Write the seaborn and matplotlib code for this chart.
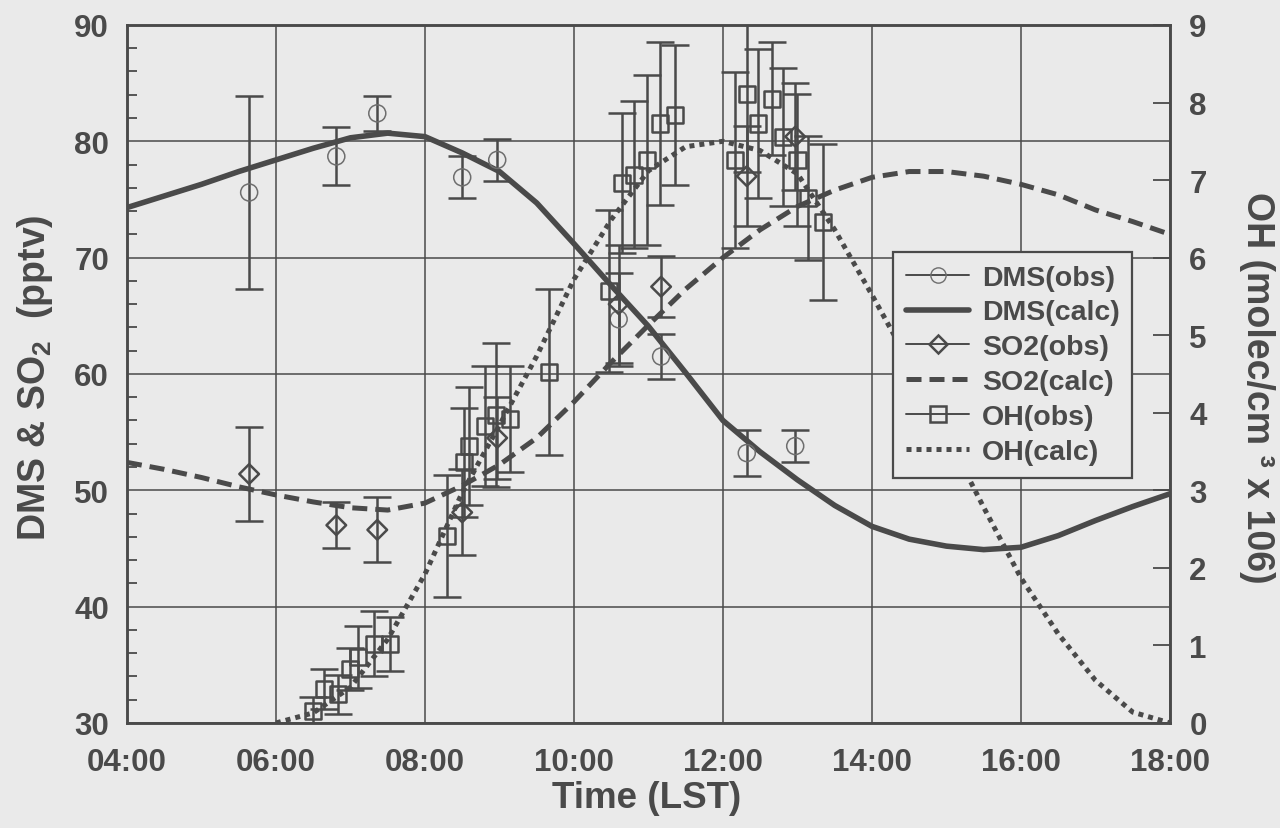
import matplotlib
matplotlib.use("Agg")
import matplotlib.pyplot as plt
import seaborn as sns
from matplotlib.lines import Line2D
from matplotlib.ticker import MultipleLocator

# ---------------- data ----------------
CALC_T = [4.0, 4.5, 5.0, 5.5, 6.0, 6.5, 7.0, 7.5, 8.0, 8.5, 9.0, 9.5, 10.0, 10.5,
          11.0, 11.5, 12.0, 12.5, 13.0, 13.5, 14.0, 14.5, 15.0, 15.5, 16.0, 16.5,
          17.0, 17.5, 18.0]
DMS_CALC = [74.3, 75.3, 76.3, 77.4, 78.4, 79.4, 80.3, 80.7, 80.4, 79.0, 77.4, 74.7,
            71.2, 67.6, 64.1, 60.1, 56.0, 53.3, 50.9, 48.7, 46.9, 45.8, 45.2, 44.9,
            45.1, 46.1, 47.4, 48.6, 49.7]
SO2_CALC = [52.4, 51.8, 51.1, 50.3, 49.6, 49.0, 48.5, 48.3, 48.9, 50.4, 52.2, 54.5,
            57.6, 61.0, 64.2, 67.3, 70.0, 72.4, 74.4, 75.8, 76.9, 77.4, 77.4, 77.0,
            76.3, 75.4, 74.1, 73.1, 72.0]

OH_CALC_T = [6.0, 6.5, 7.0, 7.5, 8.0, 8.5, 9.0, 9.5, 10.0, 10.5, 11.0, 11.5, 12.0,
             12.5, 13.0, 13.5, 14.0, 14.5, 15.0, 15.5, 16.0, 16.5, 17.0, 17.5, 18.0]
OH_CALC = [0.0, 0.13, 0.46, 1.08, 1.92, 2.97, 3.84, 4.73, 5.72, 6.49, 7.12, 7.43,
           7.50, 7.38, 7.08, 6.36, 5.52, 4.65, 3.72, 2.78, 1.87, 1.15, 0.55, 0.14, 0.0]

OBS_T = [5.64, 6.81, 7.36, 8.50, 8.97, 10.60, 11.17, 12.32, 12.97]
DMS_OBS = [75.6, 78.7, 82.4, 76.9, 78.4, 64.7, 61.5, 53.2, 53.8]
DMS_ERR = [8.3, 2.5, 1.5, 1.8, 1.8, 4.0, 1.9, 2.0, 1.4]
SO2_OBS = [51.4, 47.0, 46.6, 48.1, 54.5, 66.0, 67.5, 77.0, 80.4]
SO2_ERR = [4.0, 2.0, 2.8, 3.7, 3.5, 5.1, 2.6, 4.3, 4.6]

OH_OBS_T = [6.50, 6.64, 6.83, 6.99, 7.10, 7.32, 7.53, 8.30, 8.52, 8.59, 8.81, 8.95,
            9.14, 9.66, 10.47, 10.64, 10.81, 10.98, 11.15, 11.36, 12.16, 12.32,
            12.47, 12.66, 12.81, 13.00, 13.14, 13.34]
OH_OBS = [0.15, 0.44, 0.37, 0.70, 0.85, 1.02, 1.02, 2.41, 3.36, 3.57, 3.83, 3.97,
          3.92, 4.52, 5.57, 6.96, 7.07, 7.26, 7.73, 7.84, 7.26, 8.11, 7.73, 8.05,
          7.56, 7.26, 6.77, 6.46]
OH_ERR = [0.19, 0.26, 0.25, 0.27, 0.40, 0.42, 0.35, 0.79, 0.70, 0.76, 0.77, 0.93,
          0.68, 1.07, 1.05, 0.90, 0.95, 1.10, 1.05, 0.90, 1.13, 1.00, 0.96, 0.73,
          0.89, 0.85, 0.80, 1.00]

X_TICKS = [4, 6, 8, 10, 12, 14, 16, 18]
X_TICK_LABELS = ["04:00", "06:00", "08:00", "10:00", "12:00", "14:00", "16:00", "18:00"]
Y_TICKS = [30, 40, 50, 60, 70, 80, 90]
OH_TICKS = [0, 1, 2, 3, 4, 5, 6, 7, 8, 9]
LEGEND_LABELS = ["DMS(obs)", "DMS(calc)", "SO2(obs)", "SO2(calc)", "OH(obs)", "OH(calc)"]

# ---------------- style ----------------
sns.set_theme(style="white")
plt.rcParams.update({
    "font.family": ["Liberation Sans", "DejaVu Sans"],
    "font.weight": "bold",
    "mathtext.fontset": "custom",
    "mathtext.rm": "Liberation Sans:bold",
    "mathtext.it": "Liberation Sans:bold",
    "mathtext.bf": "Liberation Sans:bold",
    "mathtext.default": "rm",
    "axes.axisbelow": True,
})
INK = "#4a4a4a"
LIGHT = "#6e6e6e"
BG = "#eaeaea"

DASH = (0, (3.0, 1.6))
DOT = (0, (1.0, 1.0))

fig = plt.figure(figsize=(12.8, 8.29), dpi=100, facecolor=BG)
ax = fig.add_axes([0.0992, 0.1267, 0.8148, 0.842])
ax.set_facecolor(BG)
ax2 = ax.twinx()
ax2.patch.set_visible(False)

# ---------------- calculated curves ----------------
sns.lineplot(x=CALC_T, y=DMS_CALC, ax=ax, color=INK, linewidth=4.0, zorder=4)
sns.lineplot(x=CALC_T, y=SO2_CALC, ax=ax, color=INK, linewidth=3.6, zorder=4)
ax.lines[-1].set_linestyle(DASH)
sns.lineplot(x=OH_CALC_T, y=OH_CALC, ax=ax2, color=INK, linewidth=3.6, zorder=4)
ax2.lines[-1].set_linestyle(DOT)

# ---------------- observations ----------------
ax.errorbar(OBS_T, DMS_OBS, yerr=DMS_ERR, fmt="none", ecolor=INK, elinewidth=1.8,
            capsize=10, capthick=1.8, zorder=3)
ax.errorbar(OBS_T, SO2_OBS, yerr=SO2_ERR, fmt="none", ecolor=INK, elinewidth=1.8,
            capsize=10, capthick=1.8, zorder=3)
sns.scatterplot(x=OBS_T, y=DMS_OBS, ax=ax, marker="o", s=150, facecolors="none",
                edgecolors=LIGHT, linewidths=1.1, zorder=5)
sns.scatterplot(x=OBS_T, y=SO2_OBS, ax=ax, marker="D", s=100, facecolors="none",
                edgecolors=INK, linewidths=1.8, zorder=5)

ax2.errorbar(OH_OBS_T, OH_OBS, yerr=OH_ERR, fmt="none", ecolor=INK, elinewidth=1.8,
             capsize=10, capthick=1.8, zorder=3)
sns.scatterplot(x=OH_OBS_T, y=OH_OBS, ax=ax2, marker="s", s=135, facecolors="none",
                edgecolors=INK, linewidths=1.8, zorder=5)

# ---------------- axes ----------------
ax.set_xlim(4, 18)
ax.set_ylim(30, 90)
ax2.set_ylim(0, 9)
ax.set_xticks(X_TICKS, X_TICK_LABELS)
ax.set_yticks(Y_TICKS, [str(v) for v in Y_TICKS])
ax2.set_yticks(OH_TICKS, [str(v) for v in OH_TICKS])
ax.xaxis.set_minor_locator(MultipleLocator(0.4))
ax.yaxis.set_minor_locator(MultipleLocator(2))
ax.grid(True, which="major", color=INK, linewidth=1.1)
ax.set_xlabel("")
ax.set_ylabel("")
ax2.set_ylabel("")

ax.tick_params(axis="x", which="major", direction="in", length=0, pad=17,
               labelsize=22.5, labelcolor=INK)
ax.tick_params(axis="x", which="minor", direction="in", length=6, width=1.3,
               color=INK, top=False)
ax.tick_params(axis="y", which="major", direction="in", length=0, pad=13,
               labelsize=22.5, labelcolor=INK)
ax.tick_params(axis="y", which="minor", direction="in", length=7, width=1.3,
               color=INK, right=False)
ax2.tick_params(axis="y", which="major", direction="in", length=12, width=1.3,
                color=INK, pad=14, labelsize=22.5, labelcolor=INK)
ax2.tick_params(axis="y", which="minor", length=0)

for a in (ax, ax2):
    for sp in a.spines.values():
        sp.set_color(INK)
        sp.set_linewidth(1.8)
        sp.set_visible(True)

fig.text(0.5055, 0.037, "Time (LST)", ha="center", va="center", fontsize=26.5,
         color=INK)
fig.text(0.027, 0.544, "DMS & SO$_2$  (pptv)", ha="center", va="center",
         rotation=90, fontsize=27, color=INK)
fig.text(0.982, 0.532, "OH (molec/cm \u00b3 x 106)", ha="center", va="center",
         rotation=270, fontsize=27, color=INK)

# ---------------- legend ----------------
handles = [
    Line2D([], [], color=INK, lw=1.4, marker="o", ms=11, mfc="none", mec=LIGHT, mew=1.0),
    Line2D([], [], color=INK, lw=4.0),
    Line2D([], [], color=INK, lw=1.4, marker="D", ms=9, mfc="none", mec=INK, mew=1.8),
    Line2D([], [], color=INK, lw=3.6, linestyle=DASH),
    Line2D([], [], color=INK, lw=1.4, marker="s", ms=11, mfc="none", mec=INK, mew=1.8),
    Line2D([], [], color=INK, lw=3.6, linestyle=DOT),
]
leg = ax2.legend(handles, LEGEND_LABELS, loc="upper left",
                 bbox_to_anchor=(0.698, 0.695), bbox_transform=fig.transFigure,
                 fontsize=20.5, frameon=True, fancybox=False, edgecolor=INK,
                 facecolor=BG, framealpha=1, borderpad=0.45, labelspacing=0.31,
                 handlelength=2.2, handletextpad=0.45, borderaxespad=0)
leg.get_frame().set_linewidth(1.6)
leg.set_zorder(10)
for t in leg.get_texts():
    t.set_color(INK)

fig.savefig("out.png", dpi=100, facecolor=BG)
